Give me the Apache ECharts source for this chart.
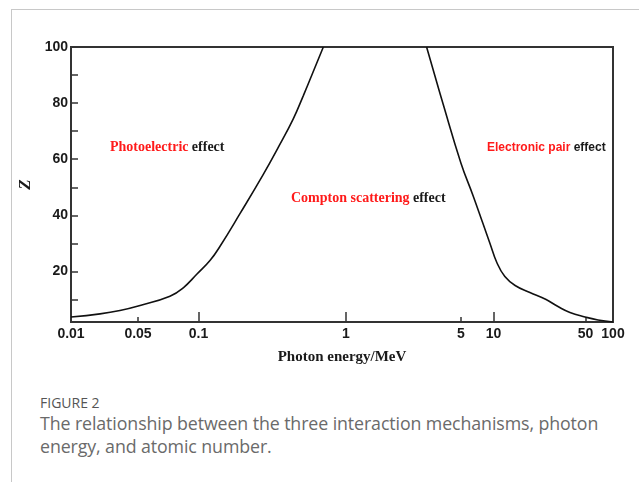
<!DOCTYPE html>
<html>
<head>
<meta charset="utf-8">
<script src="https://cdn.jsdelivr.net/npm/echarts@6/dist/echarts.min.js"></script>
<style>
  html, body { margin: 0; padding: 0; background: #fff; width: 639px; height: 482px; overflow: hidden; }
  #frame { position: absolute; left: 11px; top: 9px; width: 700px; height: 600px; border-left: 1px solid #c8c8c8; border-top: 1px solid #c8c8c8; }
  #chart { position: absolute; left: 0; top: 0; width: 639px; height: 380px; }
  #caption { position: absolute; left: 40px; top: 393px; width: 598px; font-family: "Open Sans", sans-serif; color: #5f5f5f; white-space: nowrap; }
  #caption .fig { font-size: 14px; line-height: 19px; color: #555; }
  #caption .txt { font-size: 17.8px; line-height: 23px; font-weight: 400; color: #6a6a6a; letter-spacing: -0.1px; }
</style>
</head>
<body>
<div id="frame"></div>
<div id="chart"></div>
<div id="caption">
  <div class="fig">FIGURE 2</div>
  <div class="txt">The relationship between the three interaction mechanisms, photon<br>energy, and atomic number.</div>
</div>
<script>
// ---- data (photon energy in MeV, atomic number Z) ----
const xTickValues = [0.01, 0.05, 0.1, 1, 5, 10, 50, 100];
const xTickLabels = ['0.01', '0.05', '0.1', '1', '5', '10', '50', '100'];
const xMajorTicks = [0.1, 1, 10];
const xMinorTicks = [0.05, 5, 50];
const yTickValues = [20, 40, 60, 80, 100];
const yMinorTicks = [10, 30, 50, 70, 90];

// boundary photoelectric / Compton
const peEnergy = [0.01, 0.0201, 0.0324, 0.0512, 0.0721, 0.084, 0.098, 0.12, 0.14, 0.191, 0.275, 0.348, 0.439, 0.513, 0.702];
const peZ      = [3.8, 4.9, 6.1, 7.9, 11.2, 14.2, 19.0, 24.0, 29.0, 40.6, 54.6, 64.3, 74.4, 82.6, 100];

// boundary Compton / pair production
const ppEnergy = [3.09, 3.91, 5.0, 6.46, 7.99, 9.28, 10.6, 12.2, 14.6, 18.9, 25.1, 30.9, 38.1, 49.6, 68.5, 100];
const ppZ      = [100, 79.3, 58.6, 47.1, 37.1, 30, 23.2, 18.2, 15, 12.5, 10, 7.5, 5.4, 3.8, 2.7, 2.0];

// ---- axis scale: the figure's energy axis is a stretched log scale;
// each labelled energy sits at the given axis unit (log decades, non-uniform) ----
const axisUnits = [0, 0.4945, 0.941, 2.0295, 2.878, 3.118, 3.797, 4];
function warp(e) {
  const l = Math.log10(e);
  const ls = xTickValues.map(v => Math.log10(v));
  for (let i = 0; i < ls.length - 1; i++) {
    if (l <= ls[i + 1] || i === ls.length - 2) {
      const t = (l - ls[i]) / (ls[i + 1] - ls[i]);
      return axisUnits[i] + t * (axisUnits[i + 1] - axisUnits[i]);
    }
  }
  return 0;
}
function labelFor(v) {
  let best = 0, bd = 1e9;
  xTickValues.forEach((t, i) => { const d = Math.abs(warp(t) - v); if (d < bd) { bd = d; best = i; } });
  return xTickLabels[best];
}

const chart = echarts.init(document.getElementById('chart'), null, { renderer: 'canvas' });
const axisColor = '#333';
const tickFont = { fontFamily: '"Liberation Sans", Arial, sans-serif', fontWeight: 'bold', fontSize: 14, color: '#1a1a1a' };

chart.setOption({
  animation: false,
  backgroundColor: 'transparent',
  grid: { left: 71, top: 47, width: 542, height: 275, show: true, borderColor: axisColor, borderWidth: 2 },
  xAxis: [
    {
      type: 'value', min: 0, max: 4,
      name: 'Photon energy/MeV', nameLocation: 'middle', nameGap: 28,
      nameTextStyle: { fontFamily: '"Liberation Serif", "Times New Roman", serif', fontWeight: 'bold', fontSize: 15, color: '#1a1a1a' },
      splitLine: { show: false },
      axisLine: { show: true, lineStyle: { color: axisColor, width: 2 } },
      axisTick: { show: true, inside: true, length: 10, lineStyle: { color: axisColor, width: 1.5 }, customValues: xMajorTicks.map(warp) },
      axisLabel: Object.assign({ margin: 5, customValues: xTickValues.map(warp), formatter: v => labelFor(v) }, tickFont)
    },
    {
      type: 'value', min: 0, max: 4, position: 'bottom',
      splitLine: { show: false },
      axisLine: { show: false },
      axisLabel: { show: false },
      axisTick: { show: true, inside: true, length: 5, lineStyle: { color: axisColor, width: 1.5 }, customValues: xMinorTicks.map(warp) }
    }
  ],
  yAxis: [
    {
      type: 'value', min: 2, max: 100,
      name: 'Z', nameLocation: 'middle', nameGap: 34, nameRotate: 90,
      nameTextStyle: { fontFamily: '"Liberation Serif", "Times New Roman", serif', fontWeight: 'bold', fontStyle: 'italic', fontSize: 17, color: '#1a1a1a' },
      splitLine: { show: false },
      axisLine: { show: true, lineStyle: { color: axisColor, width: 2 } },
      axisTick: { show: true, inside: true, length: 7, lineStyle: { color: axisColor, width: 1.5 }, customValues: yMinorTicks.concat(yTickValues) },
      axisLabel: Object.assign({ margin: 3, customValues: yTickValues }, tickFont)
    }
  ],
  series: [
    {
      type: 'line', xAxisIndex: 0, yAxisIndex: 0, showSymbol: false, smooth: 0.45,
      lineStyle: { color: '#111', width: 1.6 },
      data: peEnergy.map((e, i) => [warp(e), peZ[i]])
    },
    {
      type: 'line', xAxisIndex: 0, yAxisIndex: 0, showSymbol: false, smooth: 0.45,
      lineStyle: { color: '#111', width: 1.6 },
      data: ppEnergy.map((e, i) => [warp(e), ppZ[i]])
    }
  ],
  graphic: [
    {
      type: 'text', left: 110, top: 140,
      style: {
        text: '{r|Photoelectric} {k|effect}',
        rich: {
          r: { fill: '#ff1a1a', fontFamily: '"Liberation Serif", serif', fontWeight: 'bold', fontSize: 14 },
          k: { fill: '#1a1a1a', fontFamily: '"Liberation Serif", serif', fontWeight: 'bold', fontSize: 14 }
        }
      }
    },
    {
      type: 'text', left: 291, top: 191,
      style: {
        text: '{r|Compton scattering} {k|effect}',
        rich: {
          r: { fill: '#ff1a1a', fontFamily: '"Liberation Serif", serif', fontWeight: 'bold', fontSize: 14 },
          k: { fill: '#1a1a1a', fontFamily: '"Liberation Serif", serif', fontWeight: 'bold', fontSize: 14 }
        }
      }
    },
    {
      type: 'text', left: 487, top: 142,
      style: {
        text: '{r|Electronic pair} {k|effect}',
        rich: {
          r: { fill: '#ff1a1a', fontFamily: '"Liberation Sans", Arial, sans-serif', fontWeight: 'bold', fontSize: 12 },
          k: { fill: '#1a1a1a', fontFamily: '"Liberation Sans", Arial, sans-serif', fontWeight: 'bold', fontSize: 12 }
        }
      }
    }
  ]
});
</script>
</body>
</html>
